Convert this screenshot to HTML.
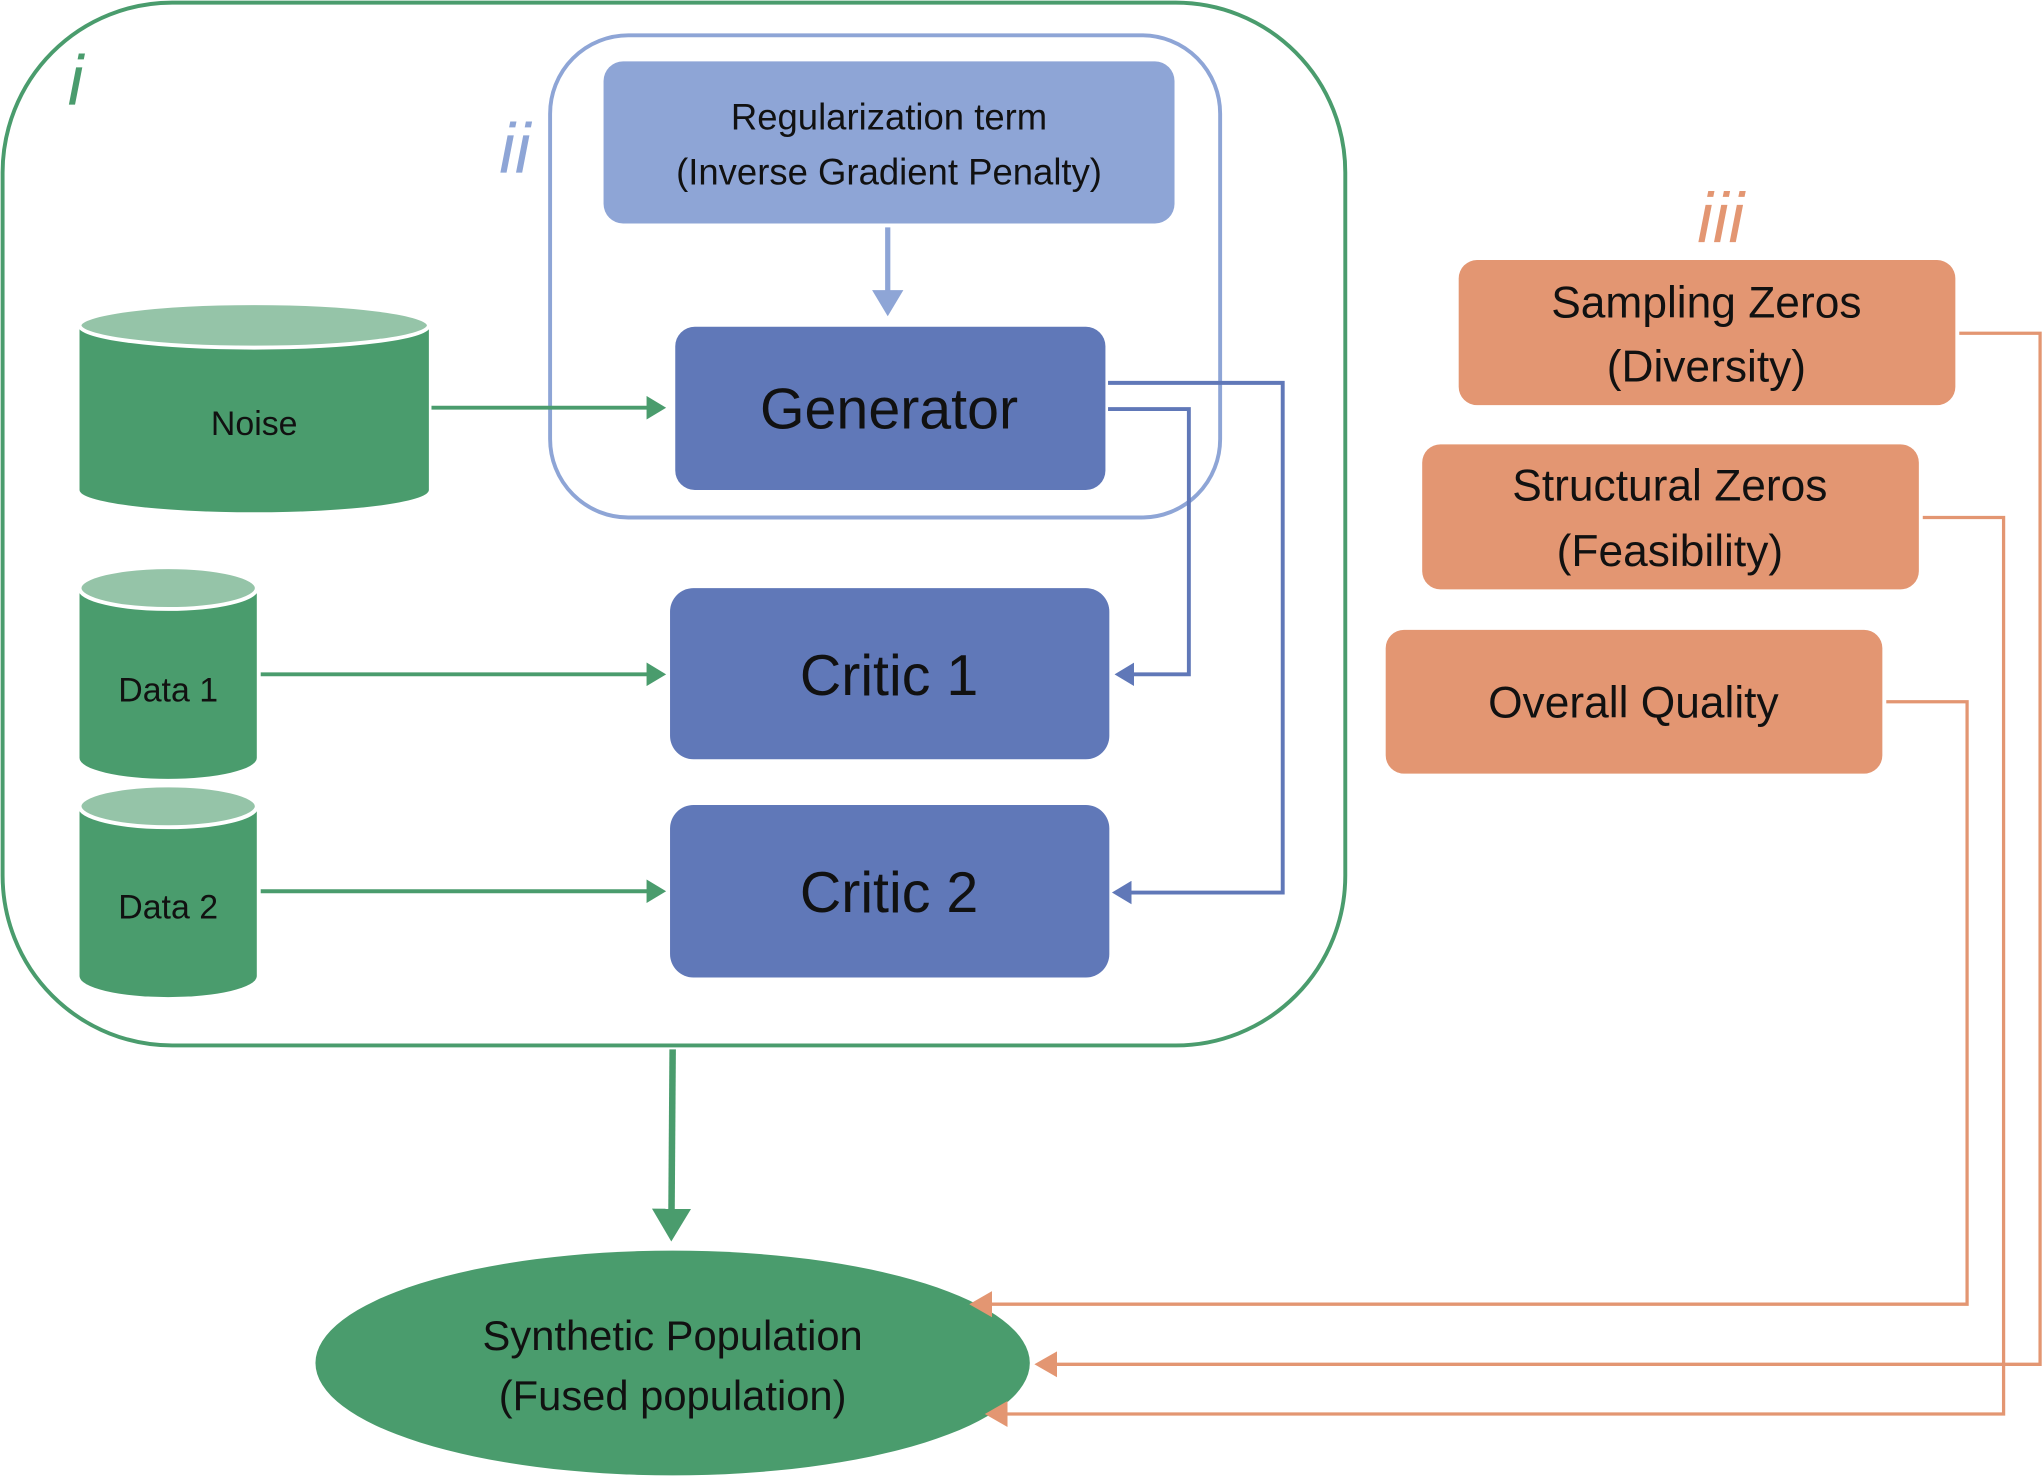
<!DOCTYPE html>
<html><head><meta charset="utf-8"><style>html,body{margin:0;padding:0;background:#fff}svg{display:block}</style></head>
<body>
<svg width="2044" height="1478" viewBox="0 0 1568 1131" preserveAspectRatio="none" xmlns="http://www.w3.org/2000/svg" font-family="'Liberation Sans', sans-serif">
<defs>
<marker id="ag" markerWidth="6" markerHeight="6" refX="4" refY="3" orient="auto" markerUnits="strokeWidth"><path d="M0,0 L5,3 L0,6 z" fill="#4a9c6d"/></marker>
<marker id="ab" markerWidth="6" markerHeight="6" refX="4" refY="3" orient="auto" markerUnits="strokeWidth"><path d="M0,0 L5,3 L0,6 z" fill="#6078b8"/></marker>
<marker id="al" markerWidth="6" markerHeight="6" refX="4" refY="3" orient="auto" markerUnits="strokeWidth"><path d="M0,0 L5,3 L0,6 z" fill="#8ea5d6"/></marker>
<marker id="ao" markerWidth="8" markerHeight="8" refX="6" refY="4" orient="auto" markerUnits="strokeWidth"><path d="M0,0 L7,4 L0,8 z" fill="#e39672"/></marker>
</defs>
<rect x="2" y="2" width="1030" height="798" rx="130" fill="none" stroke="#4a9c6d" stroke-width="3"/>
<text x="52" y="80" font-size="54" font-style="italic" fill="#4a9c6d">i</text>
<rect x="422" y="27" width="514" height="369" rx="60" fill="none" stroke="#8ea5d6" stroke-width="3"/>
<text x="383" y="132" font-size="54" font-style="italic" fill="#8ea5d6">ii</text>
<rect x="463" y="47" width="438" height="124" rx="15" fill="#8ea5d6"/>
<text x="682" y="99" font-size="28" text-anchor="middle" fill="#111">Regularization term</text>
<text x="682" y="141" font-size="28" text-anchor="middle" fill="#111">(Inverse Gradient Penalty)</text>
<line x1="681" y1="174" x2="681" y2="238" stroke="#8ea5d6" stroke-width="4" marker-end="url(#al)"/>
<rect x="518" y="250" width="330" height="125" rx="15" fill="#6078b8"/>
<text x="682" y="328" font-size="44" text-anchor="middle" fill="#111">Generator</text>
<rect x="514" y="450" width="337" height="131" rx="18" fill="#6078b8"/>
<text x="682" y="532" font-size="44" text-anchor="middle" fill="#111">Critic 1</text>
<rect x="514" y="616" width="337" height="132" rx="18" fill="#6078b8"/>
<text x="682" y="698" font-size="44" text-anchor="middle" fill="#111">Critic 2</text>
<path d="M61,249 L61,375 A134,17 0 0 0 329,375 L329,249 Z" fill="#4a9c6d"/>
<ellipse cx="195" cy="249" rx="134" ry="17" fill="#95c4a8" stroke="#fff" stroke-width="3"/>
<text x="195" y="333" font-size="26" text-anchor="middle" fill="#111">Noise</text>
<path d="M61,450 L61,580 A68,16 0 0 0 197,580 L197,450 Z" fill="#4a9c6d"/>
<ellipse cx="129" cy="450" rx="68" ry="16" fill="#95c4a8" stroke="#fff" stroke-width="3"/>
<text x="129" y="537" font-size="26" text-anchor="middle" fill="#111">Data 1</text>
<path d="M61,617 L61,747 A68,16 0 0 0 197,747 L197,617 Z" fill="#4a9c6d"/>
<ellipse cx="129" cy="617" rx="68" ry="16" fill="#95c4a8" stroke="#fff" stroke-width="3"/>
<text x="129" y="703" font-size="26" text-anchor="middle" fill="#111">Data 2</text>
<line x1="331" y1="312" x2="508" y2="312" stroke="#4a9c6d" stroke-width="3" marker-end="url(#ag)"/>
<line x1="200" y1="516" x2="508" y2="516" stroke="#4a9c6d" stroke-width="3" marker-end="url(#ag)"/>
<line x1="200" y1="682" x2="508" y2="682" stroke="#4a9c6d" stroke-width="3" marker-end="url(#ag)"/>
<polyline points="850,313 912,313 912,516 858,516" fill="none" stroke="#6078b8" stroke-width="3" marker-end="url(#ab)"/>
<polyline points="850,293 984,293 984,683 856,683" fill="none" stroke="#6078b8" stroke-width="3" marker-end="url(#ab)"/>
<line x1="516" y1="803" x2="515" y2="945" stroke="#4a9c6d" stroke-width="5" marker-end="url(#ag)"/>
<ellipse cx="516" cy="1043" rx="274" ry="86" fill="#4a9c6d"/>
<text x="516" y="1033" font-size="32" text-anchor="middle" fill="#111">Synthetic Population</text>
<text x="516" y="1079" font-size="32" text-anchor="middle" fill="#111">(Fused population)</text>
<text x="1302" y="185" font-size="54" font-style="italic" fill="#e39672">iii</text>
<rect x="1119" y="199" width="381" height="111" rx="14" fill="#e39672"/>
<text x="1309" y="243" font-size="34" text-anchor="middle" fill="#111">Sampling Zeros</text>
<text x="1309" y="292" font-size="34" text-anchor="middle" fill="#111">(Diversity)</text>
<rect x="1091" y="340" width="381" height="111" rx="14" fill="#e39672"/>
<text x="1281" y="383" font-size="34" text-anchor="middle" fill="#111">Structural Zeros</text>
<text x="1281" y="433" font-size="34" text-anchor="middle" fill="#111">(Feasibility)</text>
<rect x="1063" y="482" width="381" height="110" rx="14" fill="#e39672"/>
<text x="1253" y="549" font-size="34" text-anchor="middle" fill="#111">Overall Quality</text>
<polyline points="1503,255 1565,255 1565,1044 796,1044" fill="none" stroke="#e39672" stroke-width="2.5" marker-end="url(#ao)"/>
<polyline points="1475,396 1537,396 1537,1082 758,1082" fill="none" stroke="#e39672" stroke-width="2.5" marker-end="url(#ao)"/>
<polyline points="1447,537 1509,537 1509,998 746,998" fill="none" stroke="#e39672" stroke-width="2.5" marker-end="url(#ao)"/>
</svg>
</body></html>
